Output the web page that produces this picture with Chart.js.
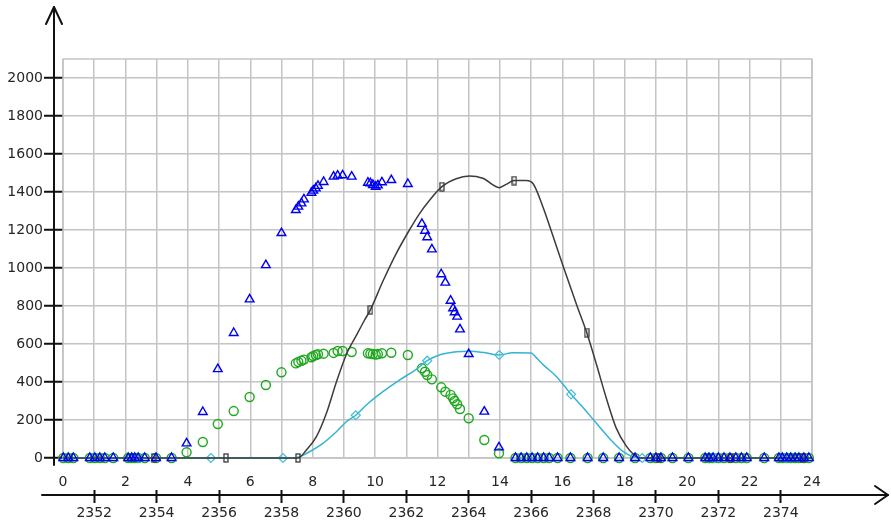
<!DOCTYPE html>
<html>
<head>
<meta charset="utf-8">
<script src="https://cdn.jsdelivr.net/npm/chart.js@4.4.0/dist/chart.umd.min.js"></script>
<style>
  html, body { margin: 0; padding: 0; background: #fff; overflow: hidden; }
  canvas { display: block; }
</style>
</head>
<body>
<canvas id="c" width="891" height="524"></canvas>
<script>
// ---- tick labels ----
const hourGrid = [0,1,2,3,4,5,6,7,8,9,10,11,12,13,14,15,16,17,18,19,20,21,22,23,24];
const hourLabels = [0,2,4,6,8,10,12,14,16,18,20,22,24];
const shiftTicks = [2352,2354,2356,2358,2360,2362,2364,2366,2368,2370,2372,2374];
const yTicks = [0,200,400,600,800,1000,1200,1400,1600,1800,2000];

// ---- sampled points (shared times for the two scatter series) ----
const sampleHours = [
  0.01,0.17,0.33,0.86,1.02,1.18,1.34,1.61,2.09,2.2,2.3,2.41,2.62,2.98,3.48,
  3.96,4.48,4.96,5.47,5.98,6.5,7.0,7.46,7.54,7.64,7.72,7.96,8.02,8.1,8.17,8.35,
  8.67,8.8,8.96,9.25,9.77,9.85,9.93,10.02,10.09,10.22,10.52,11.05,
  11.5,11.6,11.67,11.82,12.12,12.25,12.42,12.5,12.55,12.63,12.72,13.0,13.5,13.97,
  14.5,14.68,14.86,15.03,15.21,15.4,15.58,15.85,16.26,16.81,17.31,17.82,18.33,18.82,
  19.0,19.16,19.53,20.04,20.58,20.7,20.83,21.0,21.18,21.37,21.56,21.74,21.91,22.47,
  22.94,23.05,23.19,23.32,23.46,23.58,23.74,23.9
];
const blueVals = [
  0,0,0,0,0,0,0,0,0,0,0,0,0,0,0,
  77,242,468,658,835,1015,1184,1305,1323,1340,1361,1396,1407,1419,1432,1453,
  1481,1486,1488,1481,1449,1446,1437,1428,1435,1451,1463,1442,
  1232,1196,1162,1098,967,923,828,788,767,744,677,547,244,56,
  0,0,0,0,0,0,0,0,0,0,0,0,0,0,
  0,0,0,0,0,0,0,0,0,0,0,0,0,0,0,0,
  0,0,0,0,0,0,0,0
];
const greenVals = [
  0,0,0,0,0,0,0,0,0,0,0,0,0,0,0,
  30,84,179,247,321,384,451,498,505,512,518,530,537,542,546,549,
  553,563,563,558,551,549,547,544,547,551,554,542,
  472,454,437,414,372,349,332,314,300,283,258,209,95,25,
  0,0,0,0,0,0,0,0,0,0,0,0,0,0,
  0,0,0,0,0,0,0,0,0,0,0,0,0,0,0,0,
  0,0,0,0,0,0,0,0
];

// ---- dark curve ----
const blackHours = [0,2.9,5.22,7.53,7.8,8.12,8.44,8.76,9.08,9.4,9.66,9.85,10.25,10.68,11.1,11.42,11.74,
  12.14,12.6,13.02,13.45,13.98,14.2,14.46,14.84,15.07,15.37,15.7,16.03,16.46,16.78,17.08,17.4,17.72,
  18.04,18.3,18.5,19.1,21.4,23.7,24];
const blackVals = [0,0,0,0,42,112,235,400,545,645,725,780,930,1077,1200,1285,1355,
  1428,1470,1484,1472,1423,1440,1460,1460,1442,1325,1168,1008,805,660,500,320,160,
  65,16,0,0,0,0,0];
const blackMarkHours = [2.9,5.22,7.53,9.85,12.14,14.46,16.78,19.1,21.4,23.7];

// ---- cyan curve ----
const cyanHours = [0,2.42,4.74,7.05,7.35,7.58,7.9,8.33,8.76,9.08,9.38,9.72,10.25,10.78,11.32,11.67,
  12.06,12.6,13.02,13.5,13.98,14.41,14.99,15.2,15.4,15.8,16.06,16.28,16.65,17.08,17.5,17.94,
  18.25,18.56,20.87,23.17,24];
const cyanVals = [0,0,0,0,0,7,33,77,138,191,225,279,349,410,467,512,
  542,559,562,555,542,554,553,522,489,430,380,335,268,185,105,35,
  8,0,0,0,0];
const cyanMarkHours = [2.42,4.74,7.05,9.38,11.67,13.98,16.28,18.56,20.87,23.17];

// ---- styling ----
const TEXT = '#262626';
const GRID = '#c4c4c4';
const AXIS = '#111111';
const FONT = { family: 'DejaVu Sans', size: 14 };

// narrow hollow rectangle marker for the dark curve
const rectMark = document.createElement('canvas');
rectMark.width = 6; rectMark.height = 10;
(function () {
  const g = rectMark.getContext('2d');
  g.strokeStyle = '#3a3a3a';
  g.lineWidth = 1.3;
  g.strokeRect(1, 1, 4, 8);
})();

const pts = (xs, ys) => xs.map((x, i) => ({ x: x, y: ys[i] }));

// frame, axis lines and arrow heads
const axesPlugin = {
  id: 'axesArrows',
  beforeDatasetsDraw(chart) {
    const { ctx, chartArea: a } = chart;
    ctx.save();
    ctx.strokeStyle = GRID;
    ctx.lineWidth = 1.5;
    ctx.strokeRect(a.left, a.top, a.right - a.left, a.bottom - a.top);
    ctx.restore();
  },
  afterDraw(chart) {
    const { ctx, chartArea: a } = chart;
    const x2 = chart.scales.x2;
    ctx.save();
    ctx.strokeStyle = AXIS;
    ctx.lineWidth = 2;
    ctx.lineCap = 'round';
    ctx.lineJoin = 'round';
    // vertical axis
    const ax = a.left - 9;
    ctx.beginPath();
    ctx.moveTo(ax, a.bottom + 7);
    ctx.lineTo(ax, 7);
    ctx.stroke();
    ctx.beginPath();
    ctx.moveTo(ax - 8, 24);
    ctx.lineTo(ax, 7);
    ctx.lineTo(ax + 8, 24);
    ctx.stroke();
    // horizontal axis
    const ay = x2.top + 5;
    ctx.beginPath();
    ctx.moveTo(42, ay);
    ctx.lineTo(888, ay);
    ctx.stroke();
    ctx.beginPath();
    ctx.moveTo(875, ay - 9);
    ctx.lineTo(888, ay);
    ctx.lineTo(875, ay + 9);
    ctx.stroke();
    ctx.restore();
  }
};

new Chart(document.getElementById('c'), {
  type: 'scatter',
  data: {
    datasets: [
      {
        label: 'A',
        data: pts(sampleHours, blueVals),
        pointStyle: 'triangle',
        pointRadius: 5,
        borderColor: '#0000f0',
        backgroundColor: 'rgba(0,0,0,0)',
        borderWidth: 1.4,
        showLine: false,
        clip: false
      },
      {
        label: 'B',
        type: 'line',
        data: pts(blackHours, blackVals),
        borderColor: '#3c3c3c',
        borderWidth: 1.5,
        cubicInterpolationMode: 'monotone',
        pointStyle: rectMark,
        pointRadius: c => (c.raw && blackMarkHours.includes(c.raw.x)) ? 5 : 0,
        fill: false,
        clip: false
      },
      {
        label: 'C',
        type: 'line',
        data: pts(cyanHours, cyanVals),
        borderColor: '#33b4d2',
        backgroundColor: 'rgba(0,0,0,0)',
        borderWidth: 1.5,
        cubicInterpolationMode: 'monotone',
        pointStyle: 'rectRot',
        pointRadius: c => (c.raw && cyanMarkHours.includes(c.raw.x)) ? 4.5 : 0,
        pointBorderColor: '#45bcd8',
        pointBorderWidth: 1.2,
        fill: false,
        clip: false
      },
      {
        label: 'D',
        data: pts(sampleHours, greenVals),
        pointStyle: 'circle',
        pointRadius: 4.5,
        borderColor: '#1fa81f',
        backgroundColor: 'rgba(0,0,0,0)',
        borderWidth: 1.4,
        showLine: false,
        clip: false
      }
    ]
  },
  options: {
    responsive: false,
    animation: false,
    devicePixelRatio: 1,
    layout: { padding: { top: 59, left: 0, right: 79, bottom: 0 } },
    plugins: { legend: { display: false }, tooltip: { enabled: false } },
    events: [],
    scales: {
      x: {
        type: 'linear',
        position: 'bottom',
        min: 0, max: 24,
        afterBuildTicks: s => { s.ticks = hourGrid.map(v => ({ value: v })); },
        afterFit: s => { s.height = 32; },
        ticks: {
          autoSkip: false, maxRotation: 0, padding: 16,
          color: TEXT, font: FONT,
          callback: v => hourLabels.includes(v) ? String(v) : ''
        },
        grid: { color: GRID, lineWidth: 1.5, drawTicks: false },
        border: { display: false }
      },
      x2: {
        type: 'linear',
        position: 'bottom',
        min: 2351, max: 2375,
        afterBuildTicks: s => { s.ticks = shiftTicks.map(v => ({ value: v })); },
        afterFit: s => { s.height = 34; },
        ticks: {
          autoSkip: false, maxRotation: 0, padding: 2,
          color: TEXT, font: FONT,
          callback: v => String(v)
        },
        grid: { drawOnChartArea: false, drawTicks: true, tickLength: 13, tickColor: AXIS, tickWidth: 2 },
        border: { display: false }
      },
      y: {
        type: 'linear',
        position: 'left',
        min: 0, max: 2100,
        afterBuildTicks: s => { s.ticks = yTicks.map(v => ({ value: v })); },
        afterFit: s => { s.width = 63; },
        ticks: { padding: 1, color: TEXT, font: FONT, callback: v => String(v) },
        grid: { color: GRID, lineWidth: 1.5, tickLength: 19, tickColor: AXIS, tickWidth: 2 },
        border: { display: false }
      }
    }
  },
  plugins: [axesPlugin]
});
</script>
</body>
</html>
